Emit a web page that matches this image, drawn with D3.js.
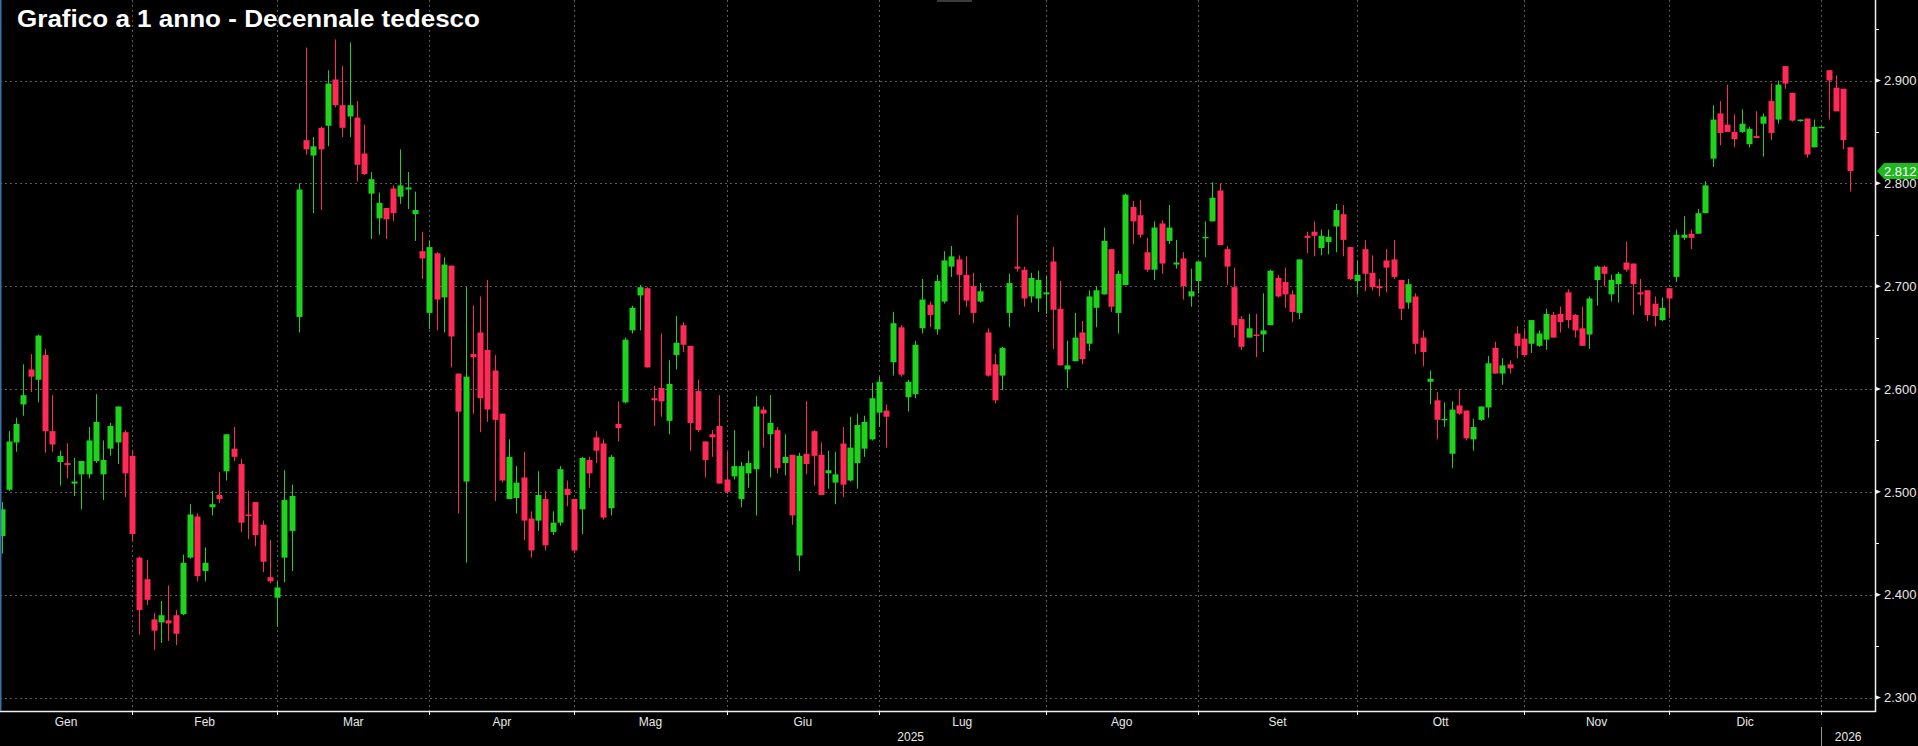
<!DOCTYPE html>
<html>
<head>
<meta charset="utf-8">
<script src="https://cdn.jsdelivr.net/npm/d3@7"></script>
<style>
  html, body { margin: 0; padding: 0; background: #000; overflow: hidden; }
  svg { display: block; }
</style>
</head>
<body>
<svg id="chart"></svg>
<script>
// Daily OHLC, German 10y yield (Jan 2025 - Jan 2026)
const open = [
  2.457,2.502,2.548,2.585,2.619,2.609,2.633,2.559,2.529,2.528,
  2.508,2.517,2.517,2.530,2.517,2.542,2.548,2.558,2.535,2.436,
  2.415,2.376,2.373,2.375,2.380,2.381,2.436,2.476,2.423,2.485,
  2.497,2.520,2.542,2.527,2.478,2.490,2.468,2.417,2.397,2.436,
  2.462,2.670,2.842,2.827,2.854,2.856,2.901,2.876,2.865,2.864,
  2.829,2.790,2.766,2.776,2.795,2.787,2.794,2.770,2.734,2.674,
  2.732,2.689,2.720,2.615,2.510,2.634,2.655,2.638,2.618,2.576,
  2.493,2.494,2.514,2.474,2.472,2.493,2.461,2.470,2.503,2.493,
  2.483,2.531,2.553,2.547,2.484,2.566,2.587,2.657,2.691,2.698,
  2.591,2.601,2.569,2.633,2.662,2.642,2.598,2.549,2.556,2.564,
  2.512,2.515,2.493,2.518,2.522,2.580,2.556,2.560,2.528,2.536,
  2.438,2.537,2.559,2.536,2.518,2.509,2.547,2.511,2.528,2.542,
  2.551,2.577,2.579,2.626,2.660,2.592,2.595,2.659,2.682,2.658,
  2.685,2.719,2.726,2.711,2.700,2.685,2.655,2.624,2.613,2.674,
  2.719,2.716,2.690,2.688,2.692,2.724,2.678,2.619,2.627,2.655,
  2.644,2.679,2.692,2.736,2.674,2.701,2.777,2.769,2.733,2.716,
  2.761,2.744,2.721,2.727,2.690,2.705,2.747,2.763,2.793,2.736,
  2.699,2.668,2.650,2.653,2.653,2.662,2.708,2.704,2.692,2.674,
  2.749,2.753,2.737,2.743,2.758,2.770,2.738,2.705,2.736,2.713,
  2.700,2.725,2.726,2.706,2.684,2.690,2.650,2.607,2.589,2.570,
  2.537,2.584,2.579,2.551,2.570,2.582,2.640,2.615,2.624,2.654,
  2.649,2.644,2.642,2.648,2.672,2.673,2.694,2.672,2.659,2.653,
  2.706,2.719,2.692,2.702,2.723,2.722,2.694,2.696,2.683,2.667,
  2.698,2.709,2.747,2.751,2.751,2.771,2.824,2.868,2.857,2.850,
  2.850,2.838,2.846,2.858,2.880,2.862,2.914,2.888,2.861,2.863,
  2.835,2.855,2.910,2.893,2.892,2.835
];
const high = [
  2.490,2.559,2.572,2.624,2.634,2.653,2.639,2.594,2.540,2.547,
  2.533,2.530,2.563,2.595,2.550,2.567,2.583,2.560,2.541,2.437,
  2.434,2.382,2.394,2.409,2.385,2.439,2.488,2.479,2.446,2.501,
  2.519,2.556,2.563,2.532,2.501,2.490,2.472,2.453,2.413,2.521,
  2.507,2.800,2.932,2.845,2.855,2.910,2.940,2.914,2.937,2.880,
  2.857,2.811,2.791,2.776,2.798,2.833,2.811,2.792,2.753,2.744,
  2.733,2.728,2.720,2.615,2.699,2.681,2.690,2.706,2.633,2.576,
  2.551,2.525,2.539,2.481,2.520,2.501,2.481,2.525,2.511,2.493,
  2.534,2.534,2.559,2.551,2.536,2.588,2.650,2.681,2.701,2.699,
  2.603,2.654,2.628,2.671,2.665,2.642,2.609,2.549,2.560,2.594,
  2.539,2.560,2.529,2.540,2.593,2.583,2.594,2.563,2.556,2.536,
  2.538,2.588,2.560,2.548,2.540,2.539,2.563,2.573,2.576,2.574,
  2.606,2.612,2.585,2.675,2.662,2.609,2.647,2.707,2.685,2.711,
  2.734,2.739,2.730,2.729,2.713,2.703,2.659,2.634,2.641,2.712,
  2.769,2.719,2.713,2.715,2.710,2.738,2.705,2.647,2.674,2.666,
  2.696,2.700,2.757,2.736,2.715,2.790,2.783,2.784,2.747,2.763,
  2.764,2.779,2.745,2.733,2.717,2.724,2.763,2.801,2.800,2.739,
  2.718,2.671,2.673,2.673,2.693,2.716,2.711,2.718,2.696,2.726,
  2.753,2.763,2.755,2.755,2.780,2.779,2.738,2.725,2.745,2.730,
  2.707,2.736,2.745,2.706,2.707,2.693,2.657,2.618,2.597,2.587,
  2.588,2.600,2.579,2.571,2.583,2.632,2.646,2.630,2.628,2.661,
  2.659,2.667,2.657,2.678,2.675,2.680,2.697,2.673,2.680,2.690,
  2.720,2.720,2.711,2.714,2.743,2.722,2.707,2.696,2.690,2.689,
  2.698,2.755,2.768,2.755,2.775,2.802,2.876,2.880,2.896,2.867,
  2.872,2.855,2.870,2.868,2.897,2.900,2.914,2.888,2.862,2.863,
  2.862,2.856,2.910,2.905,2.892,2.835
];
const low = [
  2.440,2.501,2.539,2.574,2.597,2.587,2.538,2.539,2.506,2.513,
  2.496,2.483,2.513,2.528,2.492,2.535,2.527,2.495,2.452,2.361,
  2.390,2.346,2.353,2.355,2.351,2.380,2.435,2.413,2.413,2.477,
  2.489,2.511,2.530,2.461,2.454,2.447,2.422,2.411,2.369,2.412,
  2.423,2.655,2.828,2.771,2.774,2.836,2.874,2.845,2.845,2.802,
  2.808,2.746,2.750,2.746,2.763,2.780,2.775,2.744,2.707,2.658,
  2.657,2.655,2.621,2.479,2.431,2.576,2.558,2.568,2.491,2.509,
  2.493,2.479,2.453,2.436,2.462,2.443,2.458,2.467,2.486,2.440,
  2.459,2.504,2.528,2.473,2.477,2.549,2.586,2.654,2.657,2.621,
  2.564,2.573,2.556,2.619,2.636,2.540,2.558,2.514,2.534,2.508,
  2.498,2.512,2.485,2.504,2.477,2.543,2.514,2.518,2.516,2.468,
  2.423,2.517,2.506,2.497,2.503,2.488,2.495,2.510,2.503,2.534,
  2.550,2.563,2.543,2.613,2.612,2.578,2.591,2.654,2.660,2.653,
  2.683,2.709,2.672,2.680,2.664,2.684,2.612,2.586,2.599,2.660,
  2.714,2.680,2.684,2.675,2.673,2.639,2.623,2.601,2.627,2.624,
  2.637,2.660,2.692,2.675,2.654,2.701,2.741,2.747,2.714,2.706,
  2.712,2.741,2.717,2.687,2.680,2.693,2.728,2.763,2.740,2.701,
  2.650,2.638,2.650,2.631,2.636,2.662,2.689,2.679,2.665,2.668,
  2.732,2.729,2.730,2.731,2.733,2.729,2.706,2.692,2.695,2.696,
  2.690,2.694,2.707,2.667,2.678,2.634,2.622,2.585,2.551,2.563,
  2.523,2.575,2.550,2.540,2.569,2.572,2.615,2.604,2.615,2.630,
  2.631,2.635,2.641,2.638,2.650,2.655,2.659,2.650,2.642,2.639,
  2.681,2.700,2.685,2.684,2.714,2.672,2.681,2.666,2.661,2.666,
  2.669,2.704,2.745,2.736,2.751,2.771,2.816,2.837,2.850,2.835,
  2.849,2.835,2.844,2.826,2.842,2.858,2.892,2.860,2.860,2.825,
  2.835,2.855,2.862,2.870,2.833,2.792
];
const close = [
  2.483,2.549,2.566,2.594,2.612,2.652,2.559,2.546,2.535,2.526,
  2.510,2.530,2.550,2.568,2.531,2.564,2.583,2.518,2.459,2.385,
  2.395,2.365,2.380,2.372,2.362,2.431,2.478,2.418,2.431,2.488,
  2.493,2.556,2.534,2.470,2.477,2.458,2.432,2.413,2.407,2.492,
  2.496,2.794,2.833,2.836,2.833,2.897,2.876,2.854,2.876,2.818,
  2.809,2.804,2.781,2.765,2.771,2.798,2.796,2.774,2.727,2.738,
  2.687,2.721,2.651,2.578,2.612,2.631,2.591,2.580,2.570,2.511,
  2.534,2.509,2.472,2.443,2.497,2.448,2.470,2.522,2.497,2.443,
  2.533,2.518,2.540,2.475,2.534,2.562,2.648,2.679,2.699,2.621,
  2.589,2.588,2.605,2.645,2.643,2.567,2.560,2.531,2.553,2.508,
  2.500,2.525,2.525,2.528,2.583,2.576,2.567,2.523,2.534,2.477,
  2.535,2.527,2.535,2.497,2.521,2.517,2.507,2.543,2.565,2.568,
  2.591,2.607,2.573,2.664,2.614,2.607,2.643,2.687,2.672,2.705,
  2.725,2.729,2.711,2.686,2.674,2.695,2.613,2.589,2.640,2.703,
  2.717,2.688,2.708,2.706,2.694,2.677,2.623,2.623,2.650,2.629,
  2.690,2.696,2.744,2.680,2.712,2.789,2.763,2.750,2.716,2.757,
  2.722,2.757,2.723,2.700,2.695,2.724,2.748,2.786,2.740,2.719,
  2.662,2.641,2.659,2.652,2.657,2.715,2.690,2.692,2.675,2.726,
  2.747,2.749,2.749,2.748,2.774,2.745,2.707,2.711,2.712,2.699,
  2.698,2.718,2.709,2.678,2.702,2.644,2.636,2.610,2.570,2.571,
  2.580,2.576,2.552,2.563,2.583,2.625,2.615,2.623,2.620,2.642,
  2.633,2.667,2.654,2.673,2.650,2.665,2.667,2.657,2.642,2.688,
  2.719,2.712,2.706,2.712,2.716,2.702,2.692,2.672,2.671,2.679,
  2.688,2.750,2.750,2.747,2.771,2.798,2.862,2.849,2.850,2.843,
  2.858,2.853,2.844,2.865,2.849,2.896,2.897,2.861,2.862,2.828,
  2.855,2.855,2.900,2.870,2.842,2.812
];

// Month labels and the index of the first session of each month
const monthLabels = ["Gen", "Feb", "Mar", "Apr", "Mag", "Giu", "Lug", "Ago", "Set", "Ott", "Nov", "Dic"];
const monthStart = [0, 18, 38, 59, 79, 100, 121, 144, 165, 187, 210, 230];
const yearLabels = ["2025", "2026"];
const yearStart = [0, 251];

const yTicks = [2.3, 2.4, 2.5, 2.6, 2.7, 2.8, 2.9];
const yMinor = [2.35, 2.45, 2.55, 2.65, 2.75, 2.85, 2.95];
const lastValue = close[close.length - 1];
const title = "Grafico a 1 anno - Decennale tedesco";

const width = 1918, height = 746;
const plotRight = 1875, plotBottom = 711;
const upColor = "#1ed21e", downColor = "#ff2a55";
const gridColor = "#5c5c5c";

const svg = d3.select("#chart")
  .attr("width", width)
  .attr("height", height);

svg.append("rect")
  .attr("width", width)
  .attr("height", height)
  .attr("fill", "#000");

// Scales
const x = d3.scaleLinear()
  .domain([0, close.length - 1])
  .range([1.7, 1850.3]);

const y = d3.scaleLinear()
  .domain([2.3, 2.9])
  .range([697.5, 80.5]);

// Month boundaries (Feb .. Gen 2026)
const boundaries = monthStart.slice(1).concat([yearStart[1]]);

// Grid lines
const grid = svg.append("g");
grid.selectAll(".hgrid")
  .data(yTicks)
  .enter()
  .append("line")
  .attr("x1", 0)
  .attr("x2", plotRight)
  .attr("y1", d => Math.round(y(d)) + 0.5)
  .attr("y2", d => Math.round(y(d)) + 0.5)
  .attr("stroke", gridColor)
  .attr("stroke-dasharray", "2,3");

grid.selectAll(".vgrid")
  .data(boundaries)
  .enter()
  .append("line")
  .attr("x1", d => Math.round(x(d)) + 0.5)
  .attr("x2", d => Math.round(x(d)) + 0.5)
  .attr("y1", 0)
  .attr("y2", plotBottom)
  .attr("stroke", gridColor)
  .attr("stroke-dasharray", "2,3");

// Candles
const candles = d3.range(close.length).map(i => ({
  i, o: open[i], h: high[i], l: low[i], c: close[i]
}));
const bodyW = 6;

const cg = svg.append("g").selectAll("g")
  .data(candles)
  .enter()
  .append("g")
  .attr("fill", d => d.c >= d.o ? upColor : downColor)
  .attr("stroke", d => d.c >= d.o ? upColor : downColor);

cg.append("line")
  .attr("x1", d => Math.round(x(d.i)) + 0.5)
  .attr("x2", d => Math.round(x(d.i)) + 0.5)
  .attr("y1", d => y(d.h))
  .attr("y2", d => y(d.l))
  .attr("stroke-width", 1);

cg.append("rect")
  .attr("stroke", "none")
  .attr("x", d => Math.round(x(d.i)) - bodyW / 2 + 0.5)
  .attr("y", d => y(Math.max(d.o, d.c)))
  .attr("width", bodyW)
  .attr("height", d => Math.max(1.5, Math.abs(y(d.o) - y(d.c))));

// Right axis
const yAxis = d3.axisRight(y)
  .tickValues(yTicks)
  .tickFormat(d3.format(".3f"))
  .tickSize(0)
  .tickPadding(9);

const yAxisG = svg.append("g")
  .attr("transform", `translate(${plotRight}, 0)`)
  .call(yAxis);
yAxisG.select(".domain").remove();
yAxisG.selectAll("text")
  .attr("fill", "#e8e8e8")
  .style("font-family", "'Liberation Sans', Arial, sans-serif")
  .style("font-size", "13px");

// Tick arrows and minor ticks
yAxisG.selectAll(".arrow")
  .data(yTicks)
  .enter()
  .append("path")
  .attr("d", d => `M0,${y(d) - 2.5}L6,${y(d)}L0,${y(d) + 2.5}Z`)
  .attr("fill", "#f0f0f0");

yAxisG.selectAll(".minor")
  .data(yMinor)
  .enter()
  .append("line")
  .attr("x1", 0)
  .attr("x2", 4)
  .attr("y1", d => Math.round(y(d)) + 0.5)
  .attr("y2", d => Math.round(y(d)) + 0.5)
  .attr("stroke", "#f0f0f0");

// Axis frame lines
svg.append("line")
  .attr("x1", plotRight + 0.5)
  .attr("x2", plotRight + 0.5)
  .attr("y1", 0)
  .attr("y2", plotBottom + 1)
  .attr("stroke", "#f0f0f0")
  .attr("stroke-width", 1.5);

svg.append("line")
  .attr("x1", 0)
  .attr("x2", plotRight + 1)
  .attr("y1", plotBottom + 0.5)
  .attr("y2", plotBottom + 0.5)
  .attr("stroke", "#f0f0f0")
  .attr("stroke-width", 1.5);

// Bottom ticks at month boundaries
svg.append("g").selectAll("line")
  .data(boundaries)
  .enter()
  .append("line")
  .attr("x1", d => Math.round(x(d)) + 0.5)
  .attr("x2", d => Math.round(x(d)) + 0.5)
  .attr("y1", plotBottom)
  .attr("y2", plotBottom + 4)
  .attr("stroke", "#f0f0f0");

// Month labels, centred in their month
const monthEdges = [0].concat(boundaries.map(d => x(d)));
svg.append("g").selectAll("text")
  .data(monthLabels)
  .enter()
  .append("text")
  .attr("x", (d, k) => (monthEdges[k] + monthEdges[k + 1]) / 2)
  .attr("y", 726)
  .attr("text-anchor", "middle")
  .attr("fill", "#e8e8e8")
  .style("font-family", "'Liberation Sans', Arial, sans-serif")
  .style("font-size", "12px")
  .text(d => d);

// Year labels
const yearEdges = [0, x(yearStart[1]), plotRight];
svg.append("g").selectAll("text")
  .data(yearLabels)
  .enter()
  .append("text")
  .attr("x", (d, k) => (yearEdges[k] + yearEdges[k + 1]) / 2)
  .attr("y", 741)
  .attr("text-anchor", "middle")
  .attr("fill", "#e8e8e8")
  .style("font-family", "'Liberation Sans', Arial, sans-serif")
  .style("font-size", "12px")
  .text(d => d);

svg.append("line")
  .attr("x1", Math.round(x(yearStart[1])) + 0.5)
  .attr("x2", Math.round(x(yearStart[1])) + 0.5)
  .attr("y1", 727)
  .attr("y2", height)
  .attr("stroke", "#9a9a9a");

// Last value tag
const ty = y(lastValue);
svg.append("path")
  .attr("d", `M${plotRight + 2},${ty}L${plotRight + 9},${ty - 8}L${width},${ty - 8}L${width},${ty + 8}L${plotRight + 9},${ty + 8}Z`)
  .attr("fill", "#1fb81f");
svg.append("text")
  .attr("x", plotRight + 9)
  .attr("y", ty)
  .attr("dy", "0.35em")
  .attr("fill", "#ffffff")
  .style("font-family", "'Liberation Sans', Arial, sans-serif")
  .style("font-size", "13px")
  .text(d3.format(".3f")(lastValue));

// Left border and top marker
svg.append("rect")
  .attr("x", 0).attr("y", 0)
  .attr("width", 1.5).attr("height", plotBottom)
  .attr("fill", "#3b6fb0");
svg.append("rect")
  .attr("x", 937).attr("y", 0)
  .attr("width", 35).attr("height", 2)
  .attr("fill", "#3a3a3a");

// Title
svg.append("text")
  .attr("x", 17)
  .attr("y", 27)
  .attr("fill", "#ffffff")
  .attr("textLength", 463)
  .attr("lengthAdjust", "spacingAndGlyphs")
  .style("font-family", "'Liberation Sans', Arial, sans-serif")
  .style("font-weight", "bold")
  .style("font-size", "24px")
  .text(title);
</script>
</body>
</html>
